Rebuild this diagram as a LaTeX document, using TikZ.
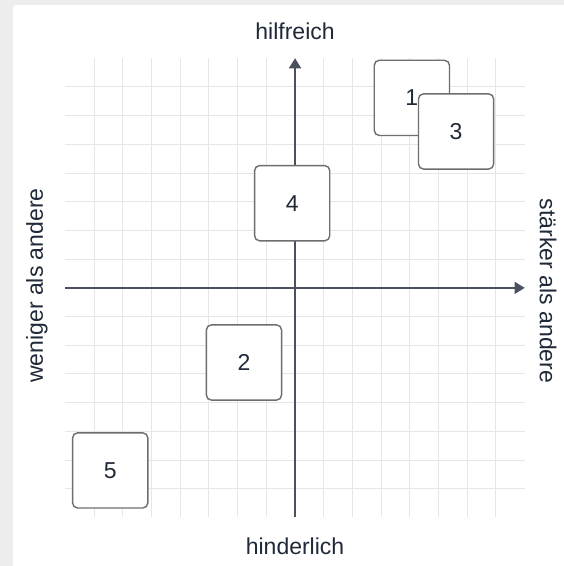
\documentclass[tikz,border=0pt]{standalone}
\usepackage{fontspec}
\setmainfont{Liberation Sans}
\usetikzlibrary{arrows.meta, positioning}

\definecolor{pagegray}{HTML}{EDEDED}
\definecolor{gridgray}{HTML}{E6E6E6}
\definecolor{axisgray}{HTML}{4A505E}
\definecolor{boxgray}{HTML}{6E6E6E}
\definecolor{textnavy}{HTML}{1F2937}

\tikzset{
  gridline/.style={color=gridgray, line width=0.5pt},
  axisline/.style={color=axisgray, line width=0.75pt, -{Triangle[width=6pt,length=5pt]}},
  axislabel/.style={text=textnavy, font=\fontsize{11.4}{13}\selectfont, inner sep=0pt},
  itembox/.style={draw=boxgray, fill=white, line width=0.7pt, rounded corners=2.5pt,
    minimum size=1.31cm, text=textnavy, font=\fontsize{11.4}{13}\selectfont}
}

\begin{document}
\begin{tikzpicture}[x=0.5cm, y=0.5cm]
%page and card
\useasboundingbox (-10.28,-9.69) rectangle (9.37,10.03);
\fill[pagegray] (-10.28,-9.69) rectangle (9.37,10.03);
\fill[white, rounded corners=1.5pt] (-9.83,-10.5) rectangle (10.2,9.85);
%grid
\foreach \i in {-7,...,7} {
  \draw[gridline] (\i,-8) -- (\i,8);
  \draw[gridline] (-8,\i) -- (8,\i);
}
%axes
\coordinate (xleft) at (-8,0);
\coordinate (xright) at (8,0);
\coordinate (ybottom) at (0,-8);
\coordinate (ytop) at (0,8);
\draw[axisline] (xleft) -- (xright);
\draw[axisline] (ybottom) -- (ytop);
%axis labels
\node[axislabel] (top) at (0,8.95) {hilfreich};
\node[axislabel] (bottom) at (0,-9.01) {hinderlich};
\node[axislabel, rotate=90] (left) at (-8.99,0.08) {weniger als andere};
\node[axislabel, rotate=-90] (right) at (8.82,-0.11) {stärker als andere};
%items
\node[itembox] (item1) at (4.07,6.62) {1};
\node[itembox] (item3) at (5.61,5.45) {3};
\node[itembox] (item4) at (-0.10,2.95) {4};
\node[itembox] (item2) at (-1.78,-2.60) {2};
\node[itembox] (item5) at (-6.44,-6.36) {5};
\end{tikzpicture}
\end{document}
